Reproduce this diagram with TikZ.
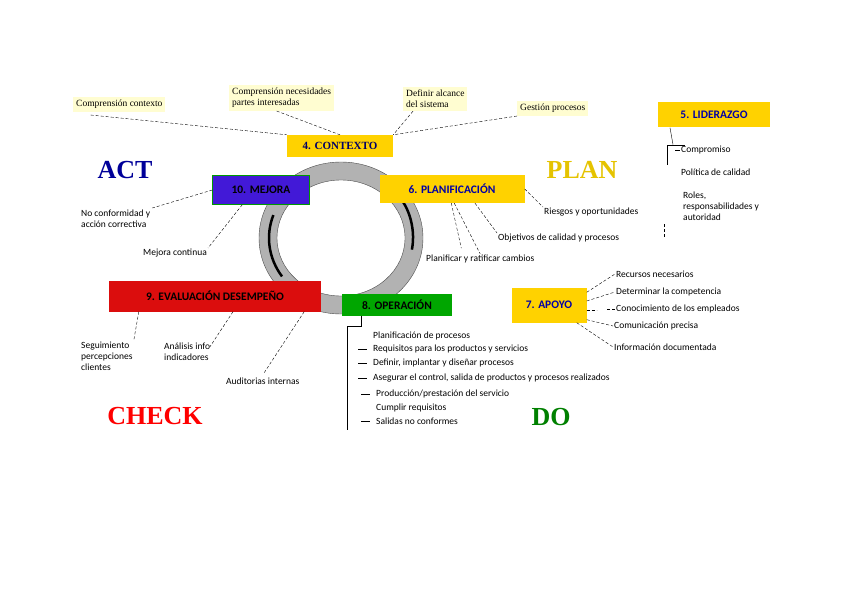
\documentclass[tikz,border=0pt]{standalone}
\usepackage{fontspec}
\setmainfont{Carlito}
\newfontfamily\serf{Liberation Serif}
\begin{document}
\begin{tikzpicture}[x=1pt,y=-1pt,
  lab/.style={font=\fontsize{9.5}{11}\selectfont,inner sep=1pt,align=left},
  call/.style={lab,fill=yellow!18,font=\serf\fontsize{9.5}{11}\selectfont,inner sep=3pt},
  tit/.style={font=\bfseries\fontsize{11.5}{13}\selectfont,inner sep=3pt},
  gold/.style={tit,fill=orange!35!yellow,text=blue!65!black},
  dl/.style={densely dashed,thin},
  big/.style={font=\serf\bfseries\fontsize{26}{28}\selectfont}]
\useasboundingbox (0,0) rectangle (848,599);
% ring
\fill[gray!60,even odd rule] (341,238) ellipse (82 and 76) (341,238) ellipse (64 and 58);
\draw[black!70] (341,238) ellipse (82 and 76);
\draw[black!70] (341,238) ellipse (64 and 58);
\draw[line width=2.5pt] (341,238) ++(200:72 and 67) arc (200:145:72 and 67);
\draw[line width=2.5pt,-latex] (341,238) ++(10:72 and 67) arc (10:-50:72 and 67);
% callouts
\node[call,anchor=north west] (c1) at (73,97) {Comprensión contexto};
\node[call,anchor=north west] (c2) at (229,85) {Comprensión necesidades\\partes interesadas};
\node[call,anchor=north west] (c3) at (403,87) {Definir alcance\\del sistema};
\node[call,anchor=north west] (c4) at (517,101) {Gestión procesos};
% title boxes
\node[gold,text=blue!40!black,font=\serf\bfseries\fontsize{11}{13}\selectfont,minimum width=106,minimum height=22] (ctx) at (340,146) {4. CONTEXTO};
\node[tit,fill=blue!65!violet!90,draw=green!60!black,minimum width=97,minimum height=29] (mej) at (261,190) {10. MEJORA};
\node[gold,minimum width=145,minimum height=28] (pla) at (452,189) {6. PLANIFICACIÓN};
\node[gold,minimum width=112,minimum height=25] (lid) at (714,115) {5. LIDERAZGO};
\node[tit,fill=red!85!black!95,minimum width=212,minimum height=31] (eva) at (215,296) {9. EVALUACIÓN DESEMPEÑO};
\node[tit,fill=green!65!black,minimum width=110,minimum height=22] (ope) at (397,305) {8. OPERACIÓN};
\node[gold,minimum width=75,minimum height=35] (apo) at (549,305) {7. APOYO};
% big letters
\node[big,text=blue!60!black] (act) at (125,170) {ACT};
\node[big,text=orange!30!yellow!90!black] (plan) at (582,170) {PLAN};
\node[big,text=red] (chk) at (155,416) {CHECK};
\node[big,text=green!50!black] (do) at (551,417) {DO};
% callout connectors
\draw[dl] (c1.south east) ++(-75,3) -- (ctx.north west);
\draw[dl] (c2.south) ++(-5,0) -- (ctx.north);
\draw[dl] (c3.south west) ++(10,0) -- (ctx.north east);
\draw[dl] (c4.south west) -- (ctx.north east);
% mejora
\node[lab,anchor=north west] (m1) at (80,209) {No conformidad y\\acción correctiva};
\node[lab,anchor=north west] (m2) at (142,248) {Mejora continua};
\draw[dl] (mej.west) -- ++(-60,18) coordinate (q1);
\draw[dl] (mej.south west) ++(30,0) -- (m2.north east);
% planificacion
\node[lab,anchor=north west] (p1) at (543,207) {Riesgos y oportunidades};
\node[lab,anchor=north west] (p2) at (497,233) {Objetivos de calidad y procesos};
\node[lab,anchor=north west] (p3) at (425,254) {Planificar y ratificar cambios};
\draw[dl] (pla.east) -- (p1.north west);
\draw[dl] (pla.south) ++(23,0) -- (p2.north west);
\draw[dl] (pla.south west) ++(72,0) -- ++(10,45);
\draw[dl] (pla.south west) ++(75,0) -- (p3.north);
\draw[dl] (pla.south west) ++(76,0) -- ++(0,0);
\draw[dl] (664,224) -- (664,238);
% liderazgo
\node[lab,anchor=west] (l1) at (680,150) {Compromiso};
\node[lab,anchor=west] (l2) at (680,172) {Política de calidad};
\node[lab,anchor=north west] (l3) at (682,191) {Roles,\\responsabilidades y\\autoridad};
\draw (lid.south) ++(-44,0) -- ++(3,17) coordinate (lk);
\draw (lk) -- ++(-6,0) -- ++(0,20);
\draw (lk) -- ++(12,0);
\draw (l1.west) ++(-5,0) -- (l1.west);
% evaluacion
\node[lab,anchor=north west] (e1) at (80,341) {Seguimiento\\percepciones\\clientes};
\node[lab,anchor=north west] (e2) at (163,342) {Análisis info\\indicadores};
\node[lab,anchor=north west] (e3) at (225,377) {Auditorias internas};
\draw[dl] (eva.south west) ++(30,0) -- (e1.north east) ++(-30,0);
\draw[dl] (eva.south) ++(18,0) -- ++(-23,35);
\draw[dl] (eva.south east) ++(-17,0) -- ++(-40,61);
% operacion
\draw (ope.south west) ++(19,0) -- ++(0,10) -- ++(-14,0) coordinate (ok) -- ++(0,104);
\node[lab,anchor=west] (o1) at (372,336) {Planificación de procesos};
\node[lab,anchor=west] (o2) at (372,349) {Requisitos para los productos y servicios};
\node[lab,anchor=west] (o3) at (372,363) {Definir, implantar y diseñar procesos};
\node[lab,anchor=west] (o4) at (372,378) {Asegurar el control, salida de productos y procesos realizados};
\node[lab,anchor=west] (o5) at (375,394) {Producción/prestación del servicio};
\node[lab,anchor=west] (o6) at (375,408) {Cumplir requisitos};
\node[lab,anchor=west] (o7) at (375,421) {Salidas no conformes};
\foreach \n in {o2,o3,o4,o5,o7} \draw (\n.west) ++(-14,0) -- ++(9,0);
% apoyo
\node[lab,anchor=west] (a1) at (615,274) {Recursos necesarios};
\node[lab,anchor=west] (a2) at (615,292) {Determinar la competencia};
\node[lab,anchor=west] (a3) at (615,309) {Conocimiento de los empleados};
\node[lab,anchor=west] (a4) at (613,326) {Comunicación precisa};
\node[lab,anchor=west] (a5) at (613,347) {Información documentada};
\draw[dl] (apo.north east) ++(0,5) -- (a1.west);
\draw[dl] (apo.east) ++(0,-4) -- (a2.west);
\draw[dl] (apo.east) ++(0,5) -- ++(10,0);
\draw[dl] (a3.west) ++(-8,0) -- (a3.west);
\draw[dl] (apo.south east) ++(0,-3) -- (a4.west);
\draw[dl] (apo.south east) ++(-10,0) -- (a5.west);
\end{tikzpicture}
\end{document}
